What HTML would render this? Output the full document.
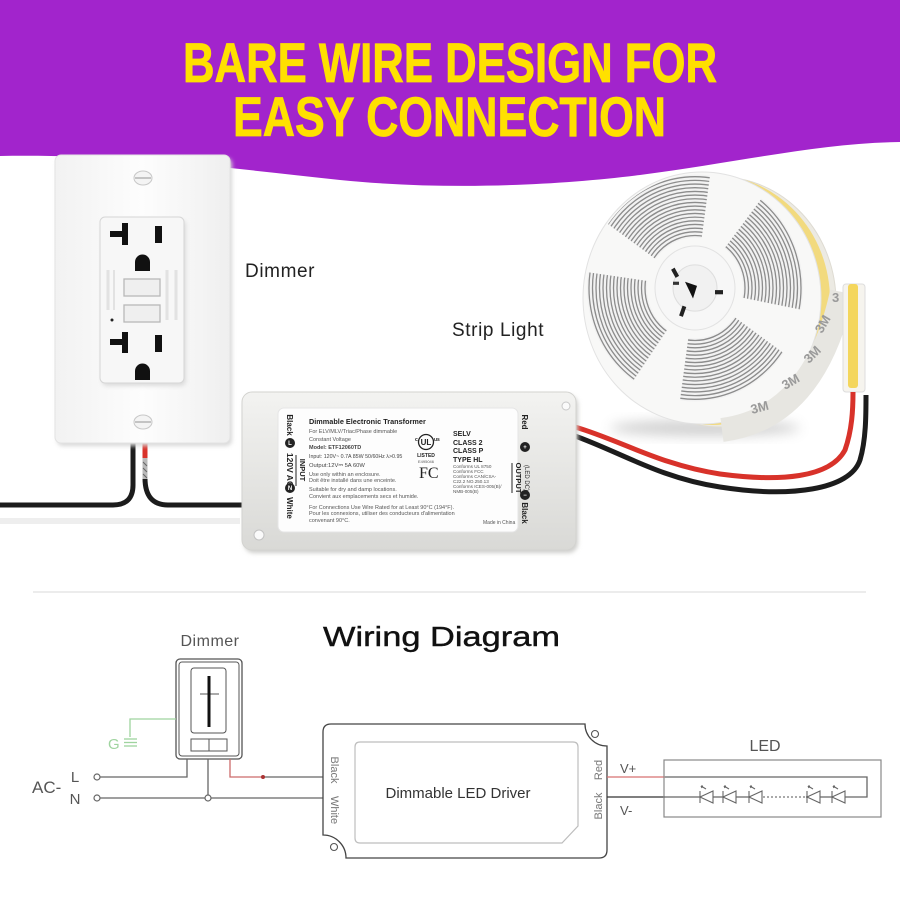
<!DOCTYPE html>
<html><head><meta charset="utf-8"><style>
html,body{margin:0;padding:0;background:#fff;}
svg{display:block;}
</style></head><body>
<svg width="900" height="900" viewBox="0 0 900 900" xmlns="http://www.w3.org/2000/svg" font-family="Liberation Sans, sans-serif">
<defs>
  <linearGradient id="tg" x1="0" y1="0" x2="0" y2="1">
    <stop offset="0" stop-color="#f3f3f1"/><stop offset="1" stop-color="#d9d9d6"/>
  </linearGradient>
  <linearGradient id="pg" x1="0" y1="0" x2="1" y2="0">
    <stop offset="0" stop-color="#f2f2f2"/><stop offset="0.5" stop-color="#fdfdfd"/><stop offset="1" stop-color="#efefef"/>
  </linearGradient>
  <clipPath id="win">
    <path d="M66.5,-85.1 A108,108 0 0 1 106,20.6 L47.1,9.2 A48,48 0 0 0 29.6,-37.8 Z"/>
    <path d="M88.5,61.9 A108,108 0 0 1 -15,107 L-6.7,47.5 A48,48 0 0 0 39.3,27.5 Z"/>
    <path d="M-61.9,88.5 A108,108 0 0 1 -107,-15 L-47.5,-6.7 A48,48 0 0 0 -27.5,39.3 Z"/>
    <path d="M-88.5,-61.9 A108,108 0 0 1 15,-107 L6.7,-47.5 A48,48 0 0 0 -39.3,-27.5 Z"/>
  </clipPath>
  <clipPath id="face"><ellipse cx="702" cy="298" rx="117" ry="124"/></clipPath>
  <filter id="blur" x="-50%" y="-50%" width="200%" height="200%"><feGaussianBlur stdDeviation="6"/></filter>
  <filter id="sh" x="-20%" y="-20%" width="140%" height="140%"><feGaussianBlur stdDeviation="2"/></filter>
</defs>

<!-- header -->
<path d="M0,0 H900 V142 C820,143 740,162 640,175 C560,185 450,191 340,180 C220,167 120,154 0,156 Z" fill="#a224cc"/>
<text x="183" y="82" font-size="56" font-weight="bold" fill="#ffe000" stroke="#ffe000" stroke-width="0.8" textLength="534" lengthAdjust="spacingAndGlyphs">BARE WIRE DESIGN FOR</text>
<text x="233" y="136" font-size="56" font-weight="bold" fill="#ffe000" stroke="#ffe000" stroke-width="0.8" textLength="433" lengthAdjust="spacingAndGlyphs">EASY CONNECTION</text>

<!-- light line under wires -->
<rect x="0" y="518" width="240" height="6" fill="#eeeeee"/>

<!-- outlet wires -->
<path d="M0,505 H113 Q133,505 133,485 V443" fill="none" stroke="#1c1c1c" stroke-width="5"/>
<path d="M145,478 Q145,505 168,505 H244" fill="none" stroke="#1c1c1c" stroke-width="5"/>
<path d="M145,443 V458" stroke="#d8322a" stroke-width="5"/>
<path d="M145,458 V479" stroke="#b9b9b9" stroke-width="5"/>
<path d="M143,462 L147,466 M143,468 L147,472 M143,474 L147,478" stroke="#666" stroke-width="1"/>

<!-- outlet plate -->
<rect x="57" y="158" width="175" height="288" rx="6" fill="#d8d8d8" filter="url(#sh)"/>
<rect x="55" y="155" width="175" height="288" rx="6" fill="url(#pg)" stroke="#e3e3e3"/>
<ellipse cx="143" cy="178" rx="9" ry="7" fill="#f4f4f4" stroke="#c8c8c8"/>
<line x1="135" y1="178" x2="151" y2="178" stroke="#b5b5b5" stroke-width="1.5"/>
<ellipse cx="143" cy="422" rx="9" ry="7" fill="#f4f4f4" stroke="#c8c8c8"/>
<line x1="135" y1="422" x2="151" y2="422" stroke="#b5b5b5" stroke-width="1.5"/>
<rect x="102" y="220" width="84" height="166" rx="5" fill="#dcdcdc" filter="url(#sh)"/>
<rect x="100" y="217" width="84" height="166" rx="5" fill="#f7f7f7" stroke="#d6d6d6"/>
<!-- top receptacle -->
<rect x="122" y="223" width="6" height="22" fill="#111"/>
<rect x="110" y="231" width="14" height="6" fill="#111"/>
<rect x="155" y="226" width="7" height="17" fill="#111"/>
<path d="M135,271 V262 A7.5,7.5 0 0 1 150,262 V271 Z" fill="#111"/>
<!-- buttons -->
<rect x="124" y="279" width="36" height="17" fill="#efefef" stroke="#b8b8b8" stroke-width="1.3"/>
<rect x="124" y="305" width="36" height="17" fill="#efefef" stroke="#b8b8b8" stroke-width="1.3"/>
<circle cx="112" cy="320" r="1.5" fill="#222"/>
<line x1="108" y1="270" x2="108" y2="310" stroke="#e2e2e2" stroke-width="3"/>
<line x1="114" y1="270" x2="114" y2="310" stroke="#e2e2e2" stroke-width="2"/>
<line x1="167" y1="270" x2="167" y2="320" stroke="#e2e2e2" stroke-width="3"/>
<line x1="176" y1="270" x2="176" y2="320" stroke="#e2e2e2" stroke-width="3"/>
<!-- bottom receptacle -->
<rect x="122" y="332" width="6" height="21" fill="#111"/>
<rect x="110" y="339" width="14" height="6" fill="#111"/>
<rect x="155" y="335" width="7" height="17" fill="#111"/>
<path d="M135,380 V371 A7.5,7.5 0 0 1 150,371 V380 Z" fill="#111"/>

<text x="245" y="277" font-size="19" fill="#222" letter-spacing="0.6">Dimmer</text>
<text x="452" y="336" font-size="19" fill="#222" letter-spacing="0.6">Strip Light</text>

<!-- reel shadow -->
<ellipse cx="705" cy="428" rx="95" ry="8" fill="#999" opacity="0.45" filter="url(#blur)"/>
<!-- reel -->
<ellipse cx="720" cy="302" rx="116" ry="125" fill="#eceae3" stroke="#dedbd2"/>
<ellipse cx="712" cy="300" rx="118" ry="125" fill="#f2da7e"/>
<ellipse cx="702" cy="298" rx="119" ry="126" fill="#f8f8f7" stroke="#e2e2e2"/>
<g clip-path="url(#face)">
<g transform="translate(695,288) scale(1,1.05)">
  <g clip-path="url(#win)">
    <rect x="-110" y="-110" width="220" height="220" fill="#f2f2f2"/>
    <g fill="none" stroke="#8c8c8c" stroke-width="1.3">
      <circle r="50"/><circle r="53.5"/><circle r="57"/><circle r="60.5"/><circle r="64"/><circle r="67.5"/><circle r="71"/><circle r="74.5"/><circle r="78"/><circle r="81.5"/><circle r="85"/><circle r="88.5"/><circle r="92"/><circle r="95.5"/><circle r="99"/><circle r="102.5"/><circle r="106"/>
    </g>
  </g>
  <circle r="40" fill="#f7f7f7" stroke="#e2e2e2"/>
  <circle r="22" fill="#f1f1f1" stroke="#dedede"/>
  <path d="M-10,-6 L2,-2 L-2,10 Z" fill="#111"/>
  <rect x="-12" y="-27" width="4" height="9" fill="#222" transform="rotate(-30)"/>
  <rect x="20" y="2" width="8" height="4" fill="#222"/>
  <rect x="-6" y="20" width="4" height="10" fill="#222" transform="rotate(20)"/>
  <rect x="-22" y="-6" width="6" height="3" fill="#333"/>
</g>
</g>
<!-- 3M tape -->
<path d="M722,430 Q815,418 842,292" fill="none" stroke="#e7e6e1" stroke-width="24"/>
<text x="752" y="414" font-size="13" font-weight="bold" fill="#9a9a9a" transform="rotate(-15 752 414)">3M</text>
<text x="785" y="390" font-size="13" font-weight="bold" fill="#9a9a9a" transform="rotate(-30 785 390)">3M</text>
<text x="809" y="364" font-size="13" font-weight="bold" fill="#9a9a9a" transform="rotate(-45 809 364)">3M</text>
<text x="822" y="334" font-size="13" font-weight="bold" fill="#9a9a9a" transform="rotate(-60 822 334)">3M</text>
<text x="832" y="302" font-size="13" font-weight="bold" fill="#9a9a9a">3</text>
<!-- COB strip -->
<rect x="843" y="284" width="22" height="108" rx="3" fill="#f6f4ee" stroke="#ddd"/>
<rect x="848" y="284" width="10" height="104" rx="3" fill="#f4d65c"/>

<!-- output wires -->
<path d="M575,427 C620,440 660,465 720,474 C780,482 830,478 845,450 C852,430 853,410 853,392" fill="none" stroke="#d8322a" stroke-width="5"/>
<path d="M575,436 C620,452 660,478 720,487 C790,498 850,490 860,460 C866,440 866,415 866,395" fill="none" stroke="#1c1c1c" stroke-width="5"/>

<!-- transformer -->
<rect x="244" y="395" width="334" height="158" rx="10" fill="#cfcfcc" filter="url(#sh)"/>
<rect x="242" y="392" width="334" height="158" rx="10" fill="url(#tg)" stroke="#d3d3d0"/>
<circle cx="259" cy="535" r="5" fill="#fafafa" stroke="#c2c2c2"/>
<circle cx="566" cy="406" r="4" fill="#fafafa" stroke="#c8c8c8"/>
<rect x="278" y="408" width="240" height="124" rx="6" fill="#fdfdfd" stroke="#e5e5e5"/>
<g fill="#222">
  <text transform="translate(287,425) rotate(90)" text-anchor="middle" font-size="8" font-weight="bold">Black</text>
  <circle cx="290" cy="443" r="5"/>
  <text transform="translate(287,470) rotate(90)" text-anchor="middle" font-size="8.5" font-weight="bold">120V AC</text>
  <circle cx="290" cy="488" r="5"/>
  <text transform="translate(287,508) rotate(90)" text-anchor="middle" font-size="8" font-weight="bold">White</text>
  <text transform="translate(300,470) rotate(90)" text-anchor="middle" font-size="7.5" font-weight="bold">INPUT</text>
  <line x1="296" y1="455" x2="296" y2="486" stroke="#222" stroke-width="1"/>
  <text x="309" y="424" font-size="7.3" font-weight="bold">Dimmable Electronic Transformer</text>
  <text x="309" y="433" font-size="5.5" fill="#555">For ELV/MLV/Triac/Phase dimmable</text>
  <text x="309" y="441" font-size="5.5" fill="#555">Constant Voltage</text>
  <text x="309" y="449" font-size="5.5" font-weight="bold" fill="#444">Model: ETF12060TD</text>
  <text x="309" y="458" font-size="5.3" fill="#444">Input: 120V~ 0.7A 85W 50/60Hz λ&gt;0.95</text>
  <text x="309" y="467" font-size="5.8" fill="#444">Output:12V⎓ 5A 60W</text>
  <text x="309" y="476" font-size="5.5" fill="#555">Use only within an enclosure.</text>
  <text x="309" y="482" font-size="5.5" fill="#555">Doit être installé dans une enceinte.</text>
  <text x="309" y="491" font-size="5.5" fill="#555">Suitable for dry and damp locations.</text>
  <text x="309" y="498" font-size="5.5" fill="#555">Convient aux emplacements secs et humide.</text>
  <text x="309" y="509" font-size="5.5" fill="#555">For Connections Use Wire Rated for at Least 90°C (194°F).</text>
  <text x="309" y="515" font-size="5.5" fill="#555">Pour les connexions, utiliser des conducteurs d'alimentation</text>
  <text x="309" y="522" font-size="5.5" fill="#555">convenant 90°C.</text>
  <circle cx="426" cy="442" r="7.5" fill="none" stroke="#222" stroke-width="1.3"/>
  <text x="426" y="445" text-anchor="middle" font-size="8" font-weight="bold">UL</text>
  <text x="415" y="441" font-size="5" font-weight="bold">c</text>
  <text x="434" y="441" font-size="5" font-weight="bold">us</text>
  <text x="426" y="457" text-anchor="middle" font-size="5" font-weight="bold">LISTED</text>
  <text x="426" y="463" text-anchor="middle" font-size="4" fill="#555">E495046</text>
  <text x="419" y="478" font-size="16" font-family="Liberation Serif, serif">FC</text>
  <text x="453" y="436" font-size="7" font-weight="bold">SELV</text>
  <text x="453" y="445" font-size="7" font-weight="bold">CLASS 2</text>
  <text x="453" y="453" font-size="7" font-weight="bold">CLASS P</text>
  <text x="453" y="462" font-size="7" font-weight="bold">TYPE HL</text>
  <text x="453" y="468" font-size="4.6" fill="#555">Conforms UL 8750</text>
  <text x="453" y="473" font-size="4.6" fill="#555">Conforms FCC</text>
  <text x="453" y="478" font-size="4.6" fill="#555">Conforms CAN/CSA-</text>
  <text x="453" y="483" font-size="4.6" fill="#555">C22.2 NO.250.13</text>
  <text x="453" y="488" font-size="4.6" fill="#555">Conforms ICES-005(B)/</text>
  <text x="453" y="493" font-size="4.6" fill="#555">NMB-005(B)</text>
  <text x="483" y="524" font-size="5" fill="#555">Made in China</text>
  <text transform="translate(522,422) rotate(90)" text-anchor="middle" font-size="8" font-weight="bold">Red</text>
  <circle cx="525" cy="447" r="5"/>
  <text transform="translate(516,478) rotate(90)" text-anchor="middle" font-size="7.5" font-weight="bold">OUTPUT</text>
  <text transform="translate(525,478) rotate(90)" text-anchor="middle" font-size="6">(LED DC)</text>
  <line x1="512" y1="463" x2="512" y2="493" stroke="#222" stroke-width="1"/>
  <circle cx="525" cy="495" r="5"/>
  <text transform="translate(522,513) rotate(90)" text-anchor="middle" font-size="8" font-weight="bold">Black</text>
</g>
<g fill="#fff" font-size="6" font-weight="bold" text-anchor="middle">
  <text x="290" y="445">L</text><text x="290" y="490">N</text>
  <text x="525" y="449">+</text><text x="525" y="497">−</text>
</g>

<!-- separator -->
<line x1="33" y1="592" x2="866" y2="592" stroke="#e6e6e6" stroke-width="1.5"/>

<text x="323" y="646" font-size="28" fill="#111" stroke="#111" stroke-width="0.4" textLength="237" lengthAdjust="spacingAndGlyphs">Wiring Diagram</text>

<!-- wiring diagram -->
<text x="210" y="646" font-size="16" fill="#555" text-anchor="middle" letter-spacing="0.5">Dimmer</text>
<g fill="none" stroke="#555" stroke-width="1.3">
  <rect x="176" y="659" width="66" height="100" rx="4"/>
  <rect x="179" y="662" width="60" height="94" rx="3" stroke-width="1"/>
  <rect x="191" y="668" width="35" height="65" rx="3" stroke-width="1"/>
  <rect x="191" y="739" width="36" height="12" stroke-width="1"/>
  <line x1="209" y1="739" x2="209" y2="751" stroke-width="1"/>
  <line x1="200" y1="694" x2="219" y2="694" stroke-width="1"/>
</g>
<line x1="209" y1="676" x2="209" y2="727" stroke="#111" stroke-width="3"/>
<g fill="none" stroke="#9fd49f" stroke-width="1.3">
  <path d="M176,719 H130 V737"/>
  <line x1="124" y1="739" x2="137" y2="739"/>
  <line x1="124" y1="742.5" x2="137" y2="742.5"/>
  <line x1="124" y1="746" x2="137" y2="746"/>
</g>
<text x="108" y="749" font-size="15" fill="#9fd49f">G</text>

<g fill="none" stroke="#666" stroke-width="1.3">
  <path d="M100,777 H187 V759"/>
  <path d="M100,798 H323"/>
  <path d="M208,759 V795"/>
  <path d="M263,777 H323"/>
  <path d="M665,777 H867 V797 H665"/>
</g>
<path d="M230,759 V777 H263" fill="none" stroke="#cc6b6b" stroke-width="1.3"/>
<circle cx="263" cy="777" r="2" fill="#a33"/>
<circle cx="97" cy="777" r="3" fill="#fff" stroke="#666" stroke-width="1.2"/>
<circle cx="97" cy="798" r="3" fill="#fff" stroke="#666" stroke-width="1.2"/>
<circle cx="208" cy="798" r="3" fill="#fff" stroke="#666" stroke-width="1.2"/>
<text x="32" y="793" font-size="17" fill="#555">AC-</text>
<text x="75" y="782" font-size="15" fill="#555" text-anchor="middle">L</text>
<text x="75" y="804" font-size="15" fill="#555" text-anchor="middle">N</text>

<!-- driver -->
<path d="M331,724 H585 A22,22 0 0 0 607,746 V850 Q607,858 599,858 H346 A23,23 0 0 0 323,835 V732 Q323,724 331,724 Z" fill="#fff" stroke="#444" stroke-width="1.3"/>
<circle cx="595" cy="734" r="3.5" fill="none" stroke="#555" stroke-width="1.1"/>
<circle cx="334" cy="847" r="3.5" fill="none" stroke="#555" stroke-width="1.1"/>
<path d="M360,742 H573 Q578,742 578,747 V826 L562,843 H360 Q355,843 355,838 V747 Q355,742 360,742 Z" fill="none" stroke="#bdbdbd" stroke-width="1.2"/>
<text x="458" y="798" font-size="15" fill="#333" text-anchor="middle">Dimmable LED Driver</text>
<g font-size="11" fill="#777" text-anchor="middle">
  <text transform="translate(331,770) rotate(90)">Black</text>
  <text transform="translate(331,810) rotate(90)">White</text>
  <text transform="translate(602,770) rotate(-90)">Red</text>
  <text transform="translate(602,806) rotate(-90)">Black</text>
</g>
<line x1="607" y1="777" x2="665" y2="777" stroke="#d87070" stroke-width="1.3"/>
<line x1="607" y1="797" x2="665" y2="797" stroke="#333" stroke-width="1.3"/>
<text x="620" y="773" font-size="13" fill="#555">V+</text>
<text x="620" y="815" font-size="13" fill="#555">V-</text>

<!-- LED box -->
<rect x="664" y="760" width="217" height="57" fill="none" stroke="#888" stroke-width="1.2"/>
<text x="765" y="751" font-size="16" fill="#555" text-anchor="middle">LED</text>
<line x1="762" y1="797" x2="806" y2="797" stroke="#fff" stroke-width="2"/>
<line x1="763" y1="797" x2="806" y2="797" stroke="#777" stroke-width="1.2" stroke-dasharray="2,2"/>
<g fill="#fff" stroke="#666" stroke-width="1.1">
  <g transform="translate(706,797)"><polygon points="-6,0 7,-6 7,6"/><line x1="-6" y1="-6" x2="-6" y2="6"/><path d="M0,-8 L-5,-11 M-5,-11 L-3,-11 M-5,-11 L-4,-9" fill="none"/></g>
  <g transform="translate(729,797)"><polygon points="-6,0 7,-6 7,6"/><line x1="-6" y1="-6" x2="-6" y2="6"/><path d="M0,-8 L-5,-11 M-5,-11 L-3,-11 M-5,-11 L-4,-9" fill="none"/></g>
  <g transform="translate(755,797)"><polygon points="-6,0 7,-6 7,6"/><line x1="-6" y1="-6" x2="-6" y2="6"/><path d="M0,-8 L-5,-11 M-5,-11 L-3,-11 M-5,-11 L-4,-9" fill="none"/></g>
  <g transform="translate(813,797)"><polygon points="-6,0 7,-6 7,6"/><line x1="-6" y1="-6" x2="-6" y2="6"/><path d="M0,-8 L-5,-11 M-5,-11 L-3,-11 M-5,-11 L-4,-9" fill="none"/></g>
  <g transform="translate(838,797)"><polygon points="-6,0 7,-6 7,6"/><line x1="-6" y1="-6" x2="-6" y2="6"/><path d="M0,-8 L-5,-11 M-5,-11 L-3,-11 M-5,-11 L-4,-9" fill="none"/></g>
</g>
</svg>
</body></html>
